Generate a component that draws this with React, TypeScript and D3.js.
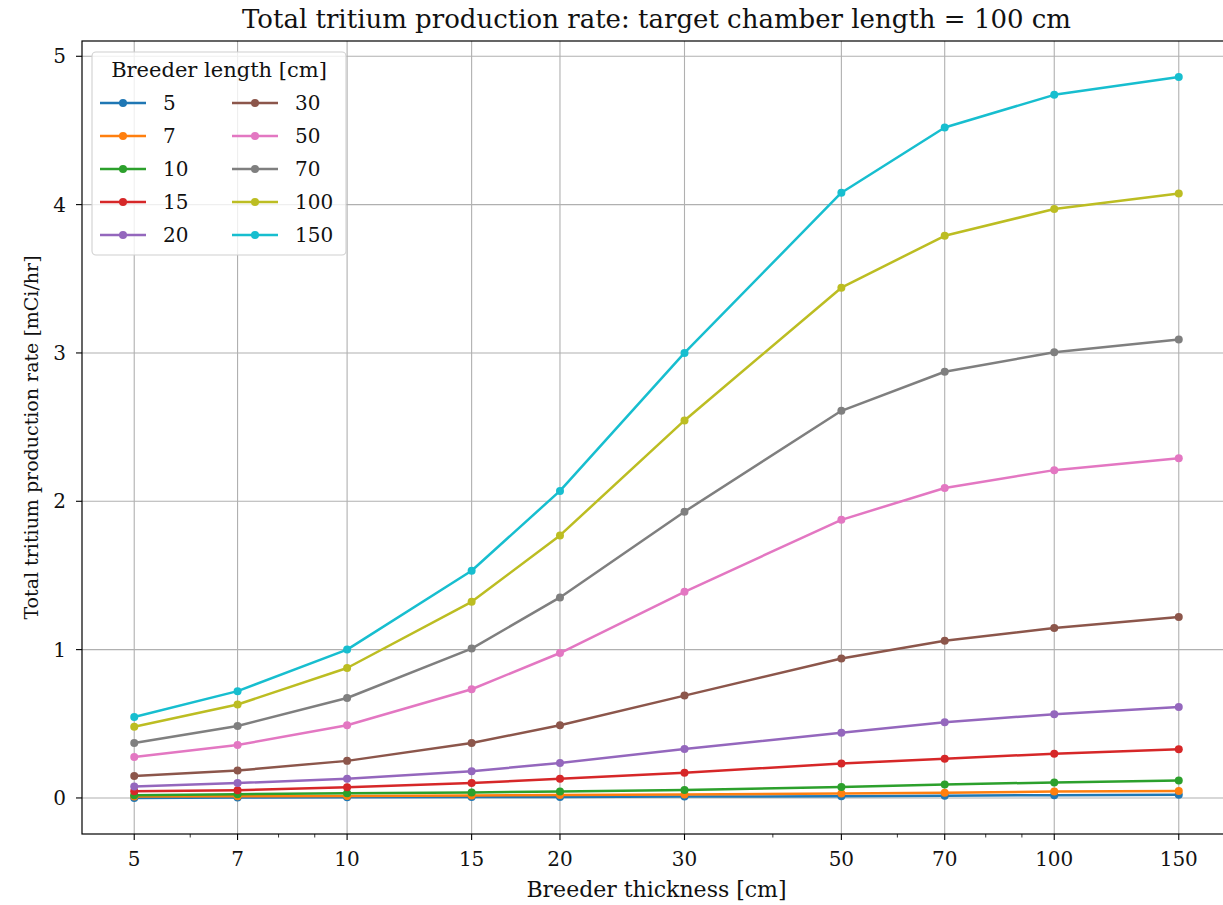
import { useEffect, useRef } from "react";
import * as d3 from "d3";

const thickness = [5, 7, 10, 15, 20, 30, 50, 70, 100, 150];
const breederLengths = ["5", "7", "10", "15", "20", "30", "50", "70", "100", "150"];

const rate5 = [0.0, 0.003, 0.004, 0.006, 0.007, 0.009, 0.012, 0.015, 0.019, 0.022];
const rate7 = [0.01, 0.012, 0.014, 0.017, 0.02, 0.024, 0.03, 0.035, 0.043, 0.047];
const rate10 = [0.018, 0.025, 0.031, 0.037, 0.043, 0.053, 0.074, 0.09, 0.105, 0.117];
const rate15 = [0.045, 0.052, 0.072, 0.1, 0.13, 0.17, 0.232, 0.265, 0.298, 0.328];
const rate20 = [0.078, 0.1, 0.13, 0.18, 0.236, 0.33, 0.44, 0.51, 0.565, 0.613];
const rate30 = [0.148, 0.185, 0.25, 0.37, 0.49, 0.69, 0.94, 1.06, 1.146, 1.22];
const rate50 = [0.276, 0.357, 0.49, 0.733, 0.977, 1.39, 1.875, 2.09, 2.21, 2.29];
const rate70 = [0.37, 0.485, 0.674, 1.007, 1.352, 1.93, 2.61, 2.873, 3.005, 3.09];
const rate100 = [0.48, 0.63, 0.876, 1.322, 1.77, 2.545, 3.44, 3.79, 3.97, 4.075];
const rate150 = [0.546, 0.72, 1.0, 1.532, 2.07, 3.0, 4.08, 4.52, 4.74, 4.86];

const rates = [rate5, rate7, rate10, rate15, rate20, rate30, rate50, rate70, rate100, rate150];

const xTicks = [5, 7, 10, 15, 20, 30, 50, 70, 100, 150];
const xMinorTicks = [6, 8, 9, 40, 60, 80, 90];
const yTicks = [0, 1, 2, 3, 4, 5];

const colors = ["#1f77b4", "#ff7f0e", "#2ca02c", "#d62728", "#9467bd", "#8c564b", "#e377c2", "#7f7f7f", "#bcbd22", "#17becf"];

export default function App() {
  const ref = useRef<SVGSVGElement>(null);

  useEffect(() => {
    const svg = d3.select(ref.current);
    svg.selectAll("*").remove();

    const width = 1223;
    const height = 905;
    const left = 82;
    const right = 1231; // right spine falls just outside the picture
    const top = 41;
    const bottom = 834;
    const font = "DejaVu Serif";
    const ink = "#111";

    // log x with matplotlib-like 5% margins
    const span = Math.log(150 / 5);
    const x = d3
      .scaleLog()
      .domain([5 * Math.exp(-0.05 * span), 150 * Math.exp(0.05 * span)])
      .range([left, right]);

    const yMax = d3.max(rates.flat()) as number;
    const yMin = d3.min(rates.flat()) as number;
    const pad = (yMax - yMin) * 0.05;
    const y = d3.scaleLinear().domain([yMin - pad, yMax + pad]).range([bottom, top]);

    svg.append("rect").attr("width", width).attr("height", height).attr("fill", "white");

    // grid
    const grid = svg.append("g").attr("stroke", "#b0b0b0").attr("stroke-width", 1.1);
    grid
      .selectAll("line.v")
      .data(xTicks)
      .enter()
      .append("line")
      .attr("x1", (d) => x(d))
      .attr("x2", (d) => x(d))
      .attr("y1", top)
      .attr("y2", bottom);
    grid
      .selectAll("line.h")
      .data(yTicks)
      .enter()
      .append("line")
      .attr("x1", left)
      .attr("x2", right)
      .attr("y1", (d) => y(d))
      .attr("y2", (d) => y(d));

    // lines + markers
    const line = d3
      .line<number>()
      .x((d, i) => x(thickness[i]))
      .y((d) => y(d));

    rates.forEach((series, k) => {
      svg
        .append("path")
        .datum(series)
        .attr("d", line)
        .attr("fill", "none")
        .attr("stroke", colors[k])
        .attr("stroke-width", 2.5)
        .attr("stroke-linejoin", "round");
      svg
        .append("g")
        .selectAll("circle")
        .data(series)
        .enter()
        .append("circle")
        .attr("cx", (d, i) => x(thickness[i]))
        .attr("cy", (d) => y(d))
        .attr("r", 4)
        .attr("fill", colors[k]);
    });

    // spines
    svg
      .append("rect")
      .attr("x", left)
      .attr("y", top)
      .attr("width", right - left)
      .attr("height", bottom - top)
      .attr("fill", "none")
      .attr("stroke", "black")
      .attr("stroke-width", 1.2);

    // x axis
    const xAxis = svg.append("g").attr("font-family", font).attr("font-size", 20);
    xAxis
      .selectAll("line.major")
      .data(xTicks)
      .enter()
      .append("line")
      .attr("x1", (d) => x(d))
      .attr("x2", (d) => x(d))
      .attr("y1", bottom)
      .attr("y2", bottom + 6)
      .attr("stroke", "black")
      .attr("stroke-width", 1.1);
    xAxis
      .selectAll("line.minor")
      .data(xMinorTicks)
      .enter()
      .append("line")
      .attr("x1", (d) => x(d))
      .attr("x2", (d) => x(d))
      .attr("y1", bottom)
      .attr("y2", bottom + 3.5)
      .attr("stroke", "black")
      .attr("stroke-width", 0.8);
    xAxis
      .selectAll("text")
      .data(xTicks)
      .enter()
      .append("text")
      .attr("x", (d) => x(d))
      .attr("y", 866)
      .attr("text-anchor", "middle")
      .attr("fill", ink)
      .text((d) => d);

    // y axis
    const yAxis = svg.append("g").attr("font-family", font).attr("font-size", 20);
    yAxis
      .selectAll("line")
      .data(yTicks)
      .enter()
      .append("line")
      .attr("x1", left - 6)
      .attr("x2", left)
      .attr("y1", (d) => y(d))
      .attr("y2", (d) => y(d))
      .attr("stroke", "black")
      .attr("stroke-width", 1.1);
    yAxis
      .selectAll("text")
      .data(yTicks)
      .enter()
      .append("text")
      .attr("x", left - 16)
      .attr("y", (d) => y(d))
      .attr("dy", "0.36em")
      .attr("text-anchor", "end")
      .attr("fill", ink)
      .text((d) => d);

    // labels
    svg
      .append("text")
      .attr("x", (left + right) / 2)
      .attr("y", 28)
      .attr("text-anchor", "middle")
      .attr("font-family", font)
      .attr("font-size", 26)
      .attr("fill", ink)
      .text("Total tritium production rate: target chamber length = 100 cm");
    svg
      .append("text")
      .attr("x", (left + right) / 2)
      .attr("y", 897)
      .attr("text-anchor", "middle")
      .attr("font-family", font)
      .attr("font-size", 22)
      .attr("fill", ink)
      .text("Breeder thickness [cm]");
    svg
      .append("text")
      .attr("transform", `translate(38, ${(top + bottom) / 2}) rotate(-90)`)
      .attr("text-anchor", "middle")
      .attr("font-family", font)
      .attr("font-size", 19)
      .attr("fill", ink)
      .text("Total tritium production rate [mCi/hr]");

    // legend (2 columns, 5 rows)
    const legend = svg.append("g").attr("font-family", font);
    legend
      .append("rect")
      .attr("x", 92)
      .attr("y", 52)
      .attr("width", 254)
      .attr("height", 203)
      .attr("rx", 4)
      .attr("fill", "white")
      .attr("fill-opacity", 0.8)
      .attr("stroke", "#d0d0d0")
      .attr("stroke-width", 1.1);
    legend
      .append("text")
      .attr("x", 219)
      .attr("y", 77)
      .attr("text-anchor", "middle")
      .attr("font-size", 21)
      .attr("fill", ink)
      .text("Breeder length [cm]");

    const item = legend
      .selectAll("g.item")
      .data(breederLengths)
      .enter()
      .append("g")
      .attr("transform", (d, i) => `translate(${i < 5 ? 100 : 232}, ${103 + (i % 5) * 33})`);
    item
      .append("line")
      .attr("x1", 0)
      .attr("x2", 46)
      .attr("stroke", (d, i) => colors[i])
      .attr("stroke-width", 2.5);
    item
      .append("circle")
      .attr("cx", 23)
      .attr("r", 4)
      .attr("fill", (d, i) => colors[i]);
    item
      .append("text")
      .attr("x", 63)
      .attr("dy", "0.36em")
      .attr("font-size", 20)
      .attr("fill", ink)
      .text((d) => d);
  }, []);

  return (
    <svg
      ref={ref}
      width={1223}
      height={905}
      style={{ position: "absolute", left: 0, top: 0, display: "block" }}
    ></svg>
  );
}
